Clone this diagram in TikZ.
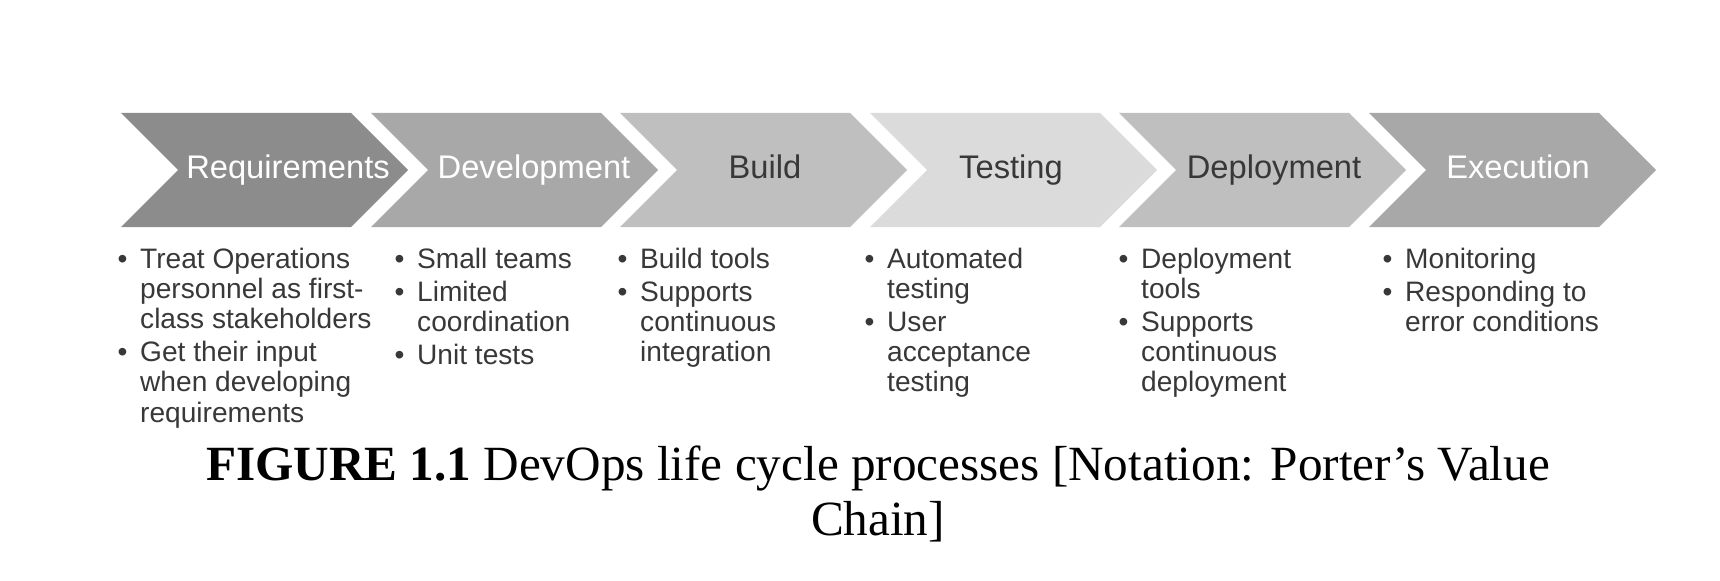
\documentclass[tikz,border=0pt]{standalone}
\usepackage{fontspec}
\setmainfont{Liberation Serif}
\setsansfont{Liberation Sans}
\usetikzlibrary{positioning}

\newcommand{\listbullet}{\makebox[0.8em][l]{\textbullet}}
\newcommand{\listindent}{\hspace*{0.8em}}

\tikzset{
    stagelabel/.style={font=\sffamily\fontsize{9.3}{11}\selectfont, text height=0.75em, text depth=0.25em},
    stagelist/.style={anchor=north west, inner sep=0pt, align=left, text=black!78,
        font=\sffamily\fontsize{8}{8.6}\selectfont},
}

\begin{document}
\begin{tikzpicture}[x=0.1mm, y=-0.1mm]

    % Define colors (grey shades of the value chain)
    \colorlet{reqcolor}{black!45}
    \colorlet{devcolor}{black!34}
    \colorlet{buildcolor}{black!25}
    \colorlet{testcolor}{black!14}
    \colorlet{deploycolor}{black!25}
    \colorlet{execcolor}{black!34}

    \useasboundingbox (0,0) rectangle (1720,580);

    % 1. The chevrons
    \fill[reqcolor] (121,113) -- ++(230,0) -- ++(57,57) -- ++(-57,57) -- ++(-230,0) -- ++(57,-57) -- cycle;
    \fill[devcolor] (371,113) -- ++(230,0) -- ++(57,57) -- ++(-57,57) -- ++(-230,0) -- ++(57,-57) -- cycle;
    \fill[buildcolor] (620,113) -- ++(230,0) -- ++(57,57) -- ++(-57,57) -- ++(-230,0) -- ++(57,-57) -- cycle;
    \fill[testcolor] (870,113) -- ++(230,0) -- ++(57,57) -- ++(-57,57) -- ++(-230,0) -- ++(57,-57) -- cycle;
    \fill[deploycolor] (1119,113) -- ++(230,0) -- ++(57,57) -- ++(-57,57) -- ++(-230,0) -- ++(57,-57) -- cycle;
    \fill[execcolor] (1369,113) -- ++(230,0) -- ++(57,57) -- ++(-57,57) -- ++(-230,0) -- ++(57,-57) -- cycle;

    % 2. Stage names
    \node[stagelabel, text=white] (req) at (288,170) {Requirements};
    \node[stagelabel, text=white] (dev) at (534,170) {Development};
    \node[stagelabel, text=black!78] (build) at (765,170) {Build};
    \node[stagelabel, text=black!78] (test) at (1011,170) {Testing};
    \node[stagelabel, text=black!78] (deploy) at (1274,170) {Deployment};
    \node[stagelabel, text=white] (exec) at (1518,170) {Execution};

    % 3. Bullet lists below the chevrons
    \node[stagelist] (reqlist) at (117,247) {\listbullet Treat Operations\\
        \listindent personnel as first-\\
        \listindent class stakeholders\\[0.8pt]
        \listbullet Get their input\\
        \listindent when developing\\
        \listindent requirements};

    \node[stagelist] (devlist) at (394,247) {\listbullet Small teams\\[0.8pt]
        \listbullet Limited\\
        \listindent coordination\\[0.8pt]
        \listbullet Unit tests};

    \node[stagelist] (buildlist) at (617,247) {\listbullet Build tools\\[0.8pt]
        \listbullet Supports\\
        \listindent continuous\\
        \listindent integration};

    \node[stagelist] (testlist) at (864,247) {\listbullet Automated\\
        \listindent testing\\[0.8pt]
        \listbullet User\\
        \listindent acceptance\\
        \listindent testing};

    \node[stagelist] (deploylist) at (1118,247) {\listbullet Deployment\\
        \listindent tools\\[0.8pt]
        \listbullet Supports\\
        \listindent continuous\\
        \listindent deployment};

    \node[stagelist] (execlist) at (1382,247) {\listbullet Monitoring\\[0.8pt]
        \listbullet Responding to\\
        \listindent error conditions};

    % 4. Caption
    \node[font=\rmfamily\fontsize{14}{15.9}\selectfont, align=center] (caption) at (878,494)
        {\textbf{FIGURE 1.1} DevOps life cycle processes [Notation: Porter’s Value\\ Chain]};

\end{tikzpicture}
\end{document}
